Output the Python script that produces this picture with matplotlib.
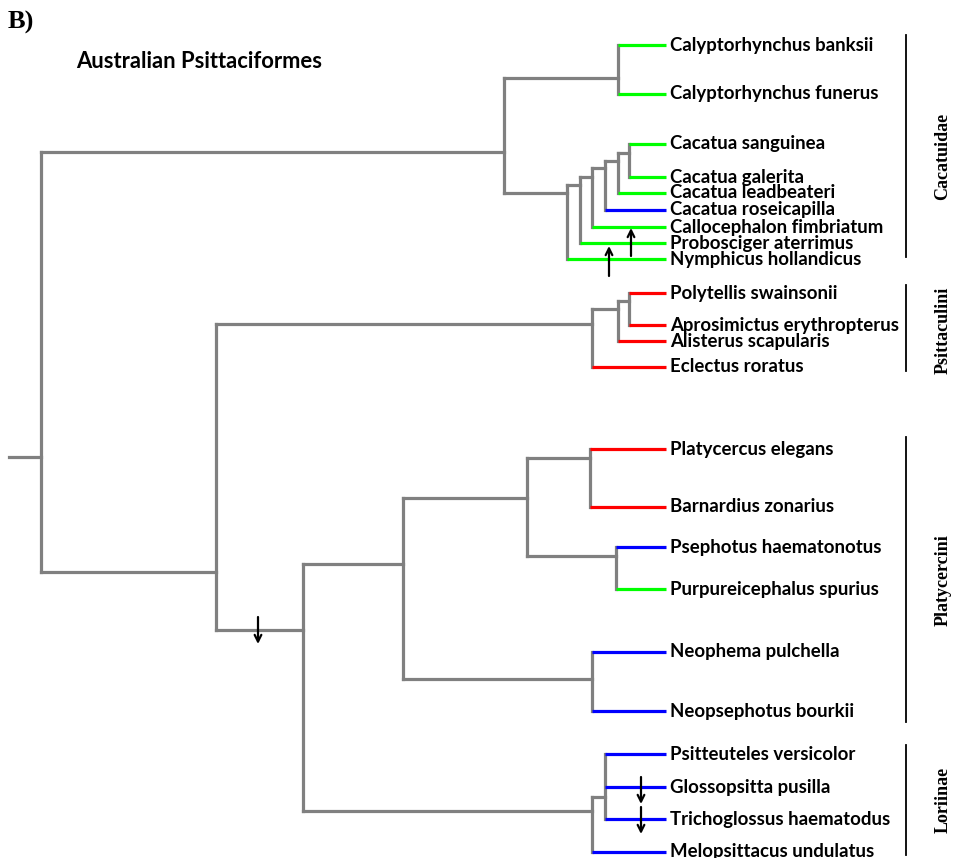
import matplotlib
matplotlib.use("Agg")
import matplotlib.pyplot as plt

# tips: name, row position, colour of terminal branch
taxa = ["Calyptorhynchus banksii", "Calyptorhynchus funerus", "Cacatua sanguinea",
        "Cacatua galerita", "Cacatua leadbeateri", "Cacatua roseicapilla",
        "Callocephalon fimbriatum", "Probosciger aterrimus", "Nymphicus hollandicus",
        "Polytellis swainsonii", "Aprosimictus erythropterus", "Alisterus scapularis",
        "Eclectus roratus", "Platycercus elegans", "Barnardius zonarius",
        "Psephotus haematonotus", "Purpureicephalus spurius", "Neophema pulchella",
        "Neopsephotus bourkii", "Psitteuteles versicolor", "Glossopsitta pusilla",
        "Trichoglossus haematodus", "Melopsittacus undulatus"]
tip_y = [45, 94, 144, 177, 193, 210, 227, 243, 259,
         293, 325, 341, 367,
         449, 507, 547, 589, 652, 711,
         754, 787, 819, 852]
tip_col = ["g", "g", "g", "g", "g", "b", "g", "g", "g",
           "r", "r", "r", "r",
           "r", "r", "b", "g", "b", "b",
           "b", "b", "b", "b"]
tip_depth = 666

# internal nodes: name -> (depth, y where parent branch joins, children)
nodes = {
    "root": (41, 457, ["cac", "rest"]),
    "cac": (504, 152, ["caly", "n1"]),
    "caly": (618, 78, ["Calyptorhynchus banksii", "Calyptorhynchus funerus"]),
    "n1": (567, 193, ["n2", "Nymphicus hollandicus"]),
    "n2": (580, 185, ["n3", "Probosciger aterrimus"]),
    "n3": (592, 177, ["n4", "Callocephalon fimbriatum"]),
    "n4": (605, 168, ["n5", "Cacatua roseicapilla"]),
    "n5": (618, 161, ["n6", "Cacatua leadbeateri"]),
    "n6": (629, 153, ["Cacatua sanguinea", "Cacatua galerita"]),
    "rest": (216, 572, ["psi", "n7"]),
    "psi": (592, 324, ["p1", "Eclectus roratus"]),
    "p1": (618, 309, ["p2", "Alisterus scapularis"]),
    "p2": (629, 301, ["Polytellis swainsonii", "Aprosimictus erythropterus"]),
    "n7": (303, 630, ["plat", "lor"]),
    "plat": (403, 564, ["pl1", "neo"]),
    "pl1": (527, 498, ["pl2", "pse"]),
    "pl2": (590, 458, ["Platycercus elegans", "Barnardius zonarius"]),
    "pse": (616, 556, ["Psephotus haematonotus", "Purpureicephalus spurius"]),
    "neo": (592, 679, ["Neophema pulchella", "Neopsephotus bourkii"]),
    "lor": (592, 811, ["lo1", "Melopsittacus undulatus"]),
    "lo1": (605, 797, ["Psitteuteles versicolor", "Glossopsitta pusilla",
                       "Trichoglossus haematodus"]),
}

clades = ["Cacatuidae", "Psittaculini", "Platycercini", "Loriinae"]
clade_top = [35, 285, 437, 745]
clade_bot = [257, 371, 722, 855]
clade_mid = [156, 330, 580, 800]

# arrows marking transitions: x, start y, end y
arrow_x = [631, 609, 258, 641, 641]
arrow_y0 = [256, 276, 617, 777, 807]
arrow_y1 = [228, 246, 644, 804, 834]

colours = {"g": "#00ff00", "r": "#ff0000", "b": "#0000ff"}
gray = "#808080"
lw = 2.3

fig = plt.figure(figsize=(9.55, 8.58), dpi=100)
ax = fig.add_axes([0, 0, 1, 1])
ax.set_xlim(0, 955)
ax.set_ylim(858, 0)
ax.axis("off")

tip_pos = dict(zip(taxa, tip_y))
tip_c = dict(zip(taxa, tip_col))


def child_y(c):
    return nodes[c][1] if c in nodes else tip_pos[c]


for name, (d, y, kids) in nodes.items():
    ys = [child_y(k) for k in kids]
    ax.plot([d, d], [min(ys), max(ys)], color=gray, lw=lw, solid_capstyle="projecting", zorder=2)
    for k in kids:
        if k in nodes:
            ax.plot([d, nodes[k][0]], [nodes[k][1]] * 2, color=gray, lw=lw,
                    solid_capstyle="projecting", zorder=2)
        else:
            ax.plot([d, tip_depth], [tip_pos[k]] * 2, color=colours[tip_c[k]], lw=lw,
                    solid_capstyle="butt", zorder=3)
            ax.text(tip_depth + 4, tip_pos[k], k, fontsize=13.4, fontweight="bold",
                    family="Lato", va="center", ha="left")

# root stub
ax.plot([9, nodes["root"][0]], [nodes["root"][1]] * 2, color=gray, lw=lw, zorder=2)

for lab, t, b, m in zip(clades, clade_top, clade_bot, clade_mid):
    ax.plot([906, 906], [t, b], color="black", lw=1.3)
    ax.text(943, m, lab, rotation=90, fontsize=13, fontweight="bold",
            family="Liberation Serif", ha="center", va="center")

for x, y0, y1 in zip(arrow_x, arrow_y0, arrow_y1):
    ax.annotate("", xy=(x, y1), xytext=(x, y0),
                arrowprops=dict(arrowstyle="->", lw=1.6, color="black",
                                shrinkA=0, shrinkB=0, mutation_scale=12), zorder=5)

ax.text(8, 22, "B)", fontsize=19, fontweight="bold", family="Liberation Serif",
        ha="left", va="center")
ax.text(76, 61, "Australian Psittaciformes", fontsize=15.8, fontweight="bold",
        family="Lato", ha="left", va="center")

fig.savefig("out.png", dpi=100)
